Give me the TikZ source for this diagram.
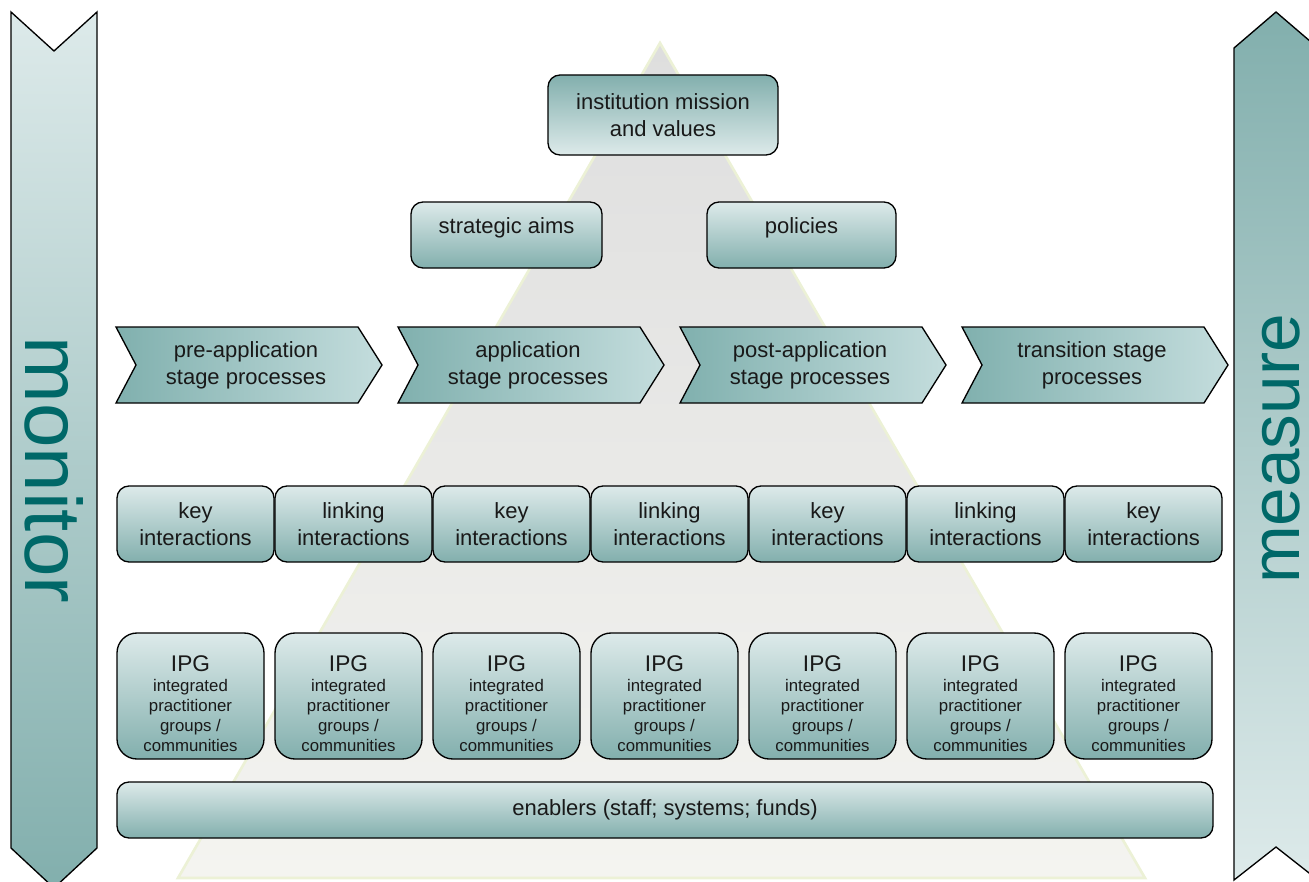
\documentclass[tikz,border=0pt]{standalone}
\usepackage{fontspec}
\setmainfont{Liberation Sans}
\definecolor{tL}{RGB}{221,234,234}
\definecolor{tD}{RGB}{130,175,173}
\definecolor{cD}{RGB}{128,176,174}
\definecolor{cL}{RGB}{196,221,221}
\definecolor{tealtxt}{RGB}{0,104,104}
\definecolor{triTop}{RGB}{222,222,222}
\definecolor{triBot}{RGB}{244,244,240}
\definecolor{triEdge}{RGB}{236,241,214}
\begin{document}
\begin{tikzpicture}[x=0.75pt,y=-0.75pt,
  outline/.style={draw=black, line width=1pt},
  boxd/.style={outline, rounded corners=9pt, top color=tL, bottom color=tD, inner sep=0pt},
  boxu/.style={outline, rounded corners=9pt, top color=tD, bottom color=tL, inner sep=0pt},
  ipgbox/.style={outline, rounded corners=15pt, top color=tL, bottom color=tD, inner sep=0pt,
    minimum width=110.25pt, minimum height=94.5pt},
  keybox/.style={boxd, minimum width=117.75pt, minimum height=57pt},
  chev/.style={outline, left color=cD, right color=cL},
  txt/.style={align=center, text=black!90, font=\fontsize{16.5}{20}\selectfont, inner sep=0pt},
  small/.style={align=center, text=black!90, font=\fontsize{12.6}{15}\selectfont, inner sep=0pt},
  bar/.style={outline},
  big/.style={text=tealtxt, inner sep=0pt}
]
\useasboundingbox (0,0) rectangle (1309,881);

% background pyramid
\path[top color=triTop, bottom color=triBot, draw=triEdge, line width=2pt]
  (660,43) -- (1145,878) -- (178,878) -- cycle;

% side bars
\path[bar, top color=tL, bottom color=tD]
  (11,12) -- (54,51) -- (97,12) -- (97,848) -- (54,888) -- (11,848) -- cycle;
\path[bar, top color=tD, bottom color=tL]
  (1234,48) -- (1276,12) -- (1318,48) -- (1318,880) -- (1276,847) -- (1234,880) -- cycle;
\node[big, rotate=-90, font=\fontsize{60}{60}\selectfont] (monitor) at (54,470) {monitor};
\node[big, rotate=90, font=\fontsize{52}{52}\selectfont] (measure) at (1281,449) {measure};

% top level
\node[boxu, minimum width=172.5pt, minimum height=60pt] (mission) at (663,115) {};
\node[txt] (missiont) at (mission.center) {institution mission\\and values};
\node[boxd, minimum width=143.25pt, minimum height=49.5pt] (aims) at (506.5,235) {};
\node[txt, yshift=5.5pt] (aimst) at (aims.center) {strategic aims};
\node[boxd, minimum width=141.75pt, minimum height=49.5pt] (pol) at (801.5,235) {};
\node[txt, yshift=5.5pt] (polt) at (pol.center) {policies};

% chevrons
\foreach \L/\name/\t in {116/c1/{pre-application\\stage processes},
                         398/c2/{application\\stage processes},
                         680/c3/{post-application\\stage processes},
                         962/c4/{transition stage\\processes}} {
  \path[chev] (\L,327) -- ({\L+242},327) -- ({\L+266},365) -- ({\L+242},403)
     -- (\L,403) -- ({\L+20},365) -- cycle;
  \node[txt] (\name) at ({\L+130},365) {\t};
}

% interactions row
\foreach \i/\t in {0/key, 1/linking, 2/key, 3/linking, 4/key, 5/linking, 6/key} {
  \node[keybox] (k\i) at ({195.5+158*\i},524) {};
  \node[txt] (kt\i) at (k\i.center) {\t\\interactions};
}

% IPG row
\foreach \i in {0,...,6} {
  \node[ipgbox] (g\i) at ({190.5+158*\i},696) {};
  \node[small, anchor=north] (gt\i) at ({190.5+158*\i},655)
    {{\fontsize{17}{20}\selectfont IPG}\\integrated\\practitioner\\groups /\\communities};
}

% enablers
\node[boxd, minimum width=822pt, minimum height=42pt] (en) at (665,810) {};
\node[txt, yshift=0.5pt] (ent) at (en.center) {enablers (staff; systems; funds)};
\end{tikzpicture}
\end{document}
